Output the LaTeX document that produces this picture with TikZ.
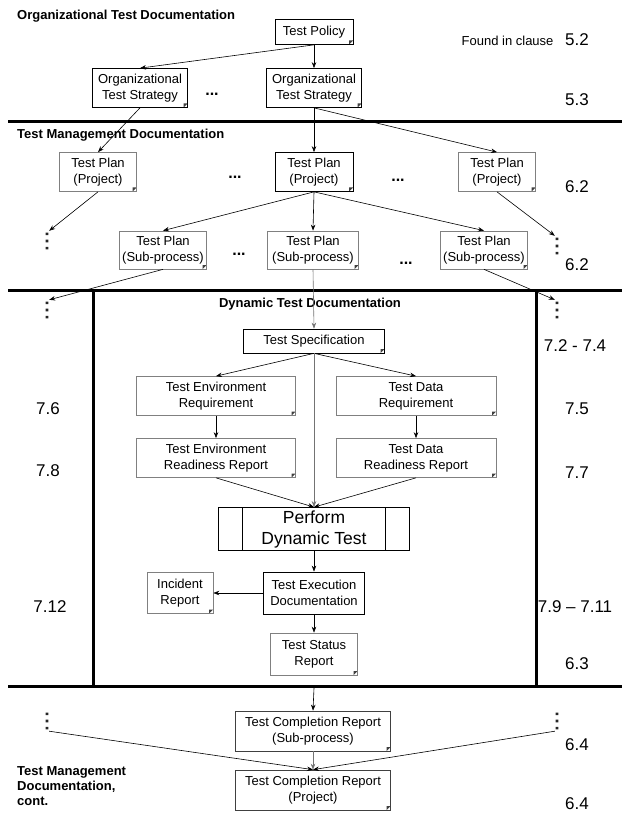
\documentclass[tikz,border=0pt]{standalone}
\usepackage{fontspec}
\setmainfont{Liberation Sans}
\usetikzlibrary{arrows.meta}
\usetikzlibrary{positioning}

\begin{document}
\begin{tikzpicture}[>={Stealth[length=6pt,width=4.5pt]}, x=1pt, y=-1pt,
    doc/.style={draw, line width=0.7pt, fill=white, align=center, inner sep=1pt,
      font=\fontsize{13}{16}\selectfont,
      path picture={\fill[black!75] ([xshift=-4pt]path picture bounding box.south east)
        -- ([yshift=4pt]path picture bounding box.south east)
        -- ([xshift=-4pt,yshift=4pt]path picture bounding box.south east) -- cycle;}},
    docg/.style={doc, draw=black!50},
    proc/.style={draw, line width=0.8pt, align=center, inner sep=1pt,
      font=\fontsize{17.5}{21}\selectfont,
      path picture={\draw[line width=0.8pt] ([xshift=24pt]path picture bounding box.north west)
          -- ([xshift=24pt]path picture bounding box.south west)
          ([xshift=-24pt]path picture bounding box.north east)
          -- ([xshift=-24pt]path picture bounding box.south east);}},
    head/.style={font=\fontsize{13}{15}\selectfont\bfseries, align=left, inner sep=0pt},
    clause/.style={font=\fontsize{17}{20}\selectfont, inner sep=0pt},
    vdotsn/.style={inner sep=0pt, minimum width=4pt, minimum height=20pt,
      path picture={\fill[black!85]
        ([xshift=-1.3pt,yshift=5.8pt]path picture bounding box.center) rectangle ([xshift=1.3pt,yshift=8.4pt]path picture bounding box.center)
        ([xshift=-1.3pt,yshift=-1.3pt]path picture bounding box.center) rectangle ([xshift=1.3pt,yshift=1.3pt]path picture bounding box.center)
        ([xshift=-1.3pt,yshift=-5.8pt]path picture bounding box.center) rectangle ([xshift=1.3pt,yshift=-8.4pt]path picture bounding box.center);}},
    hdots/.style={font=\fontsize{16}{16}\selectfont\bfseries, inner sep=0pt},
    bar/.style={line width=3pt},
    link/.style={->, line width=0.6pt},
    linkg/.style={link, draw=black!55},
  ]

    \useasboundingbox (0,0) rectangle (625,834);

    % separators
    \draw[bar] (8,122) -- (622,122);
    \draw[bar] (8,290) -- (622,290);
    \draw[bar] (8,686) -- (622,686);
    \draw[bar] (93,290) -- (93,686);
    \draw[bar] (536,290) -- (536,686);

    % headings
    \node[head, anchor=west] (hOrg) at (17,16) {Organizational Test Documentation};
    \node[head, anchor=west] (hMan) at (17,135) {Test Management Documentation};
    \node[head] (hDyn) at (310,304) {Dynamic Test Documentation};
    \node[head, anchor=north west] (hCont) at (17,766) {Test Management\\Documentation,\\cont.};

    % clause numbers
    \node[font=\fontsize{13}{15}\selectfont, anchor=east] (found) at (557,41) {Found in clause};
    \node[clause] (c52) at (577,40) {5.2};
    \node[clause] (c53) at (577,100) {5.3};
    \node[clause] (c62a) at (577,187) {6.2};
    \node[clause] (c62b) at (577,265) {6.2};
    \node[clause] (c72) at (575,346) {7.2 - 7.4};
    \node[clause] (c75) at (577,409) {7.5};
    \node[clause] (c77) at (577,473) {7.7};
    \node[clause] (c79) at (575,607) {7.9 -- 7.11};
    \node[clause] (c63) at (577,664) {6.3};
    \node[clause] (c64a) at (577,745) {6.4};
    \node[clause] (c64b) at (577,804) {6.4};
    \node[clause] (c76) at (48,409) {7.6};
    \node[clause] (c78) at (48,471) {7.8};
    \node[clause] (c712) at (50,607) {7.12};

    % organizational level
    \node[doc, minimum width=78pt, minimum height=25pt] (pol) at (314,32) {Test Policy};
    \node[doc, minimum width=95pt, minimum height=39pt] (otsL) at (140,88) {Organizational\\Test Strategy};
    \node[doc, minimum width=95pt, minimum height=39pt] (otsR) at (314,88) {Organizational\\Test Strategy};
    \node[hdots] (h1) at (212,94) {...};

    % test plans
    \node[docg, minimum width=77pt, minimum height=39pt] (tpL) at (98,172) {Test Plan\\(Project)};
    \node[doc, minimum width=78pt, minimum height=39pt] (tpM) at (314,172) {Test Plan\\(Project)};
    \node[docg, minimum width=77pt, minimum height=39pt] (tpR) at (497,172) {Test Plan\\(Project)};
    \node[hdots] (h2) at (235,177) {...};
    \node[hdots] (h3) at (398,180) {...};

    \node[docg, minimum width=87pt, minimum height=38pt] (spL) at (163,250) {Test Plan\\(Sub-process)};
    \node[docg, minimum width=91pt, minimum height=38pt] (spM) at (313,250) {Test Plan\\(Sub-process)};
    \node[docg, minimum width=87pt, minimum height=38pt] (spR) at (484,250) {Test Plan\\(Sub-process)};
    \node[hdots] (h4) at (239,254) {...};
    \node[hdots] (h5) at (406,263) {...};

    % vertical dots
    \node[vdotsn] (dL1) at (47,241) {};
    \node[vdotsn] (dR1) at (557,246) {};
    \node[vdotsn] (dL2) at (47,310) {};
    \node[vdotsn] (dR2) at (557,310) {};
    \node[vdotsn] (dL3) at (47,721) {};
    \node[vdotsn] (dR3) at (557,721) {};

    % dynamic test documentation
    \node[doc, minimum width=141pt, minimum height=24pt] (spec) at (314,341) {Test Specification};
    \node[docg, minimum width=159pt, minimum height=39pt] (ter) at (216,396) {Test Environment\\Requirement};
    \node[docg, minimum width=160pt, minimum height=39pt] (tdr) at (416,396) {Test Data\\Requirement};
    \node[docg, minimum width=159pt, minimum height=39pt] (terr) at (216,458) {Test Environment\\Readiness Report};
    \node[docg, minimum width=160pt, minimum height=39pt] (tdrr) at (416,458) {Test Data\\Readiness Report};
    \node[proc, minimum width=191pt, minimum height=43pt] (perf) at (314,529) {Perform\\Dynamic Test};
    \node[docg, minimum width=66pt, minimum height=41pt] (inc) at (180,593) {Incident\\Report};
    \node[draw, line width=0.8pt, align=center, inner sep=1pt, font=\fontsize{13}{16}\selectfont,
      minimum width=101pt, minimum height=42pt] (ted) at (314,593) {Test Execution\\Documentation};
    \node[docg, minimum width=87pt, minimum height=42pt] (tsr) at (314,654) {Test Status\\Report};

    % completion reports
    \node[doc, draw=black!75, minimum width=155pt, minimum height=40pt] (tcrS) at (313,731) {Test Completion Report\\(Sub-process)};
    \node[doc, draw=black!75, minimum width=155pt, minimum height=40pt] (tcrP) at (313,790) {Test Completion Report\\(Project)};
    \coordinate (cB) at (314,688);

    % connectors
    \draw[link] (pol.south) -- (otsL.north);
    \draw[link] (pol.south) -- (otsR.north);
    \draw[link] (otsL.south) -- (tpL.north);
    \draw[link] (otsR.south) -- (tpM.north);
    \draw[link] (otsR.south) -- (tpR.north);
    \draw[link] (tpL.south) -- (dL1.north east);
    \draw[link] (tpR.south) -- (dR1.north west);
    \draw[link] (tpM.south) -- (spL.north);
    \draw[link] (tpM.south) -- (spM.north);
    \draw[link] (tpM.south) -- (spR.north);
    \draw[link] (spL.south) -- (dL2.north east);
    \draw[link] (spR.south) -- (dR2.north west);
    \draw[linkg] (spM.south) -- (spec.north);
    \draw[link] (spec.south) -- (ter.north);
    \draw[link] (spec.south) -- (tdr.north);
    \draw[linkg] (spec.south) -- (perf.north);
    \draw[link] (ter) -- (terr);
    \draw[link] (tdr) -- (tdrr);
    \draw[link] (terr.south) -- (perf.north);
    \draw[link] (tdrr.south) -- (perf.north);
    \draw[link] (perf) -- (ted);
    \draw[link] (ted) -- (inc);
    \draw[link] (ted) -- (tsr);
    \draw[link] (cB) -- (tcrS.north);
    \draw[linkg] (tcrS) -- (tcrP);
    \draw[link] (dL3.south east) -- (tcrP.north);
    \draw[link] (dR3.south west) -- (tcrP.north);

\end{tikzpicture}
\end{document}
